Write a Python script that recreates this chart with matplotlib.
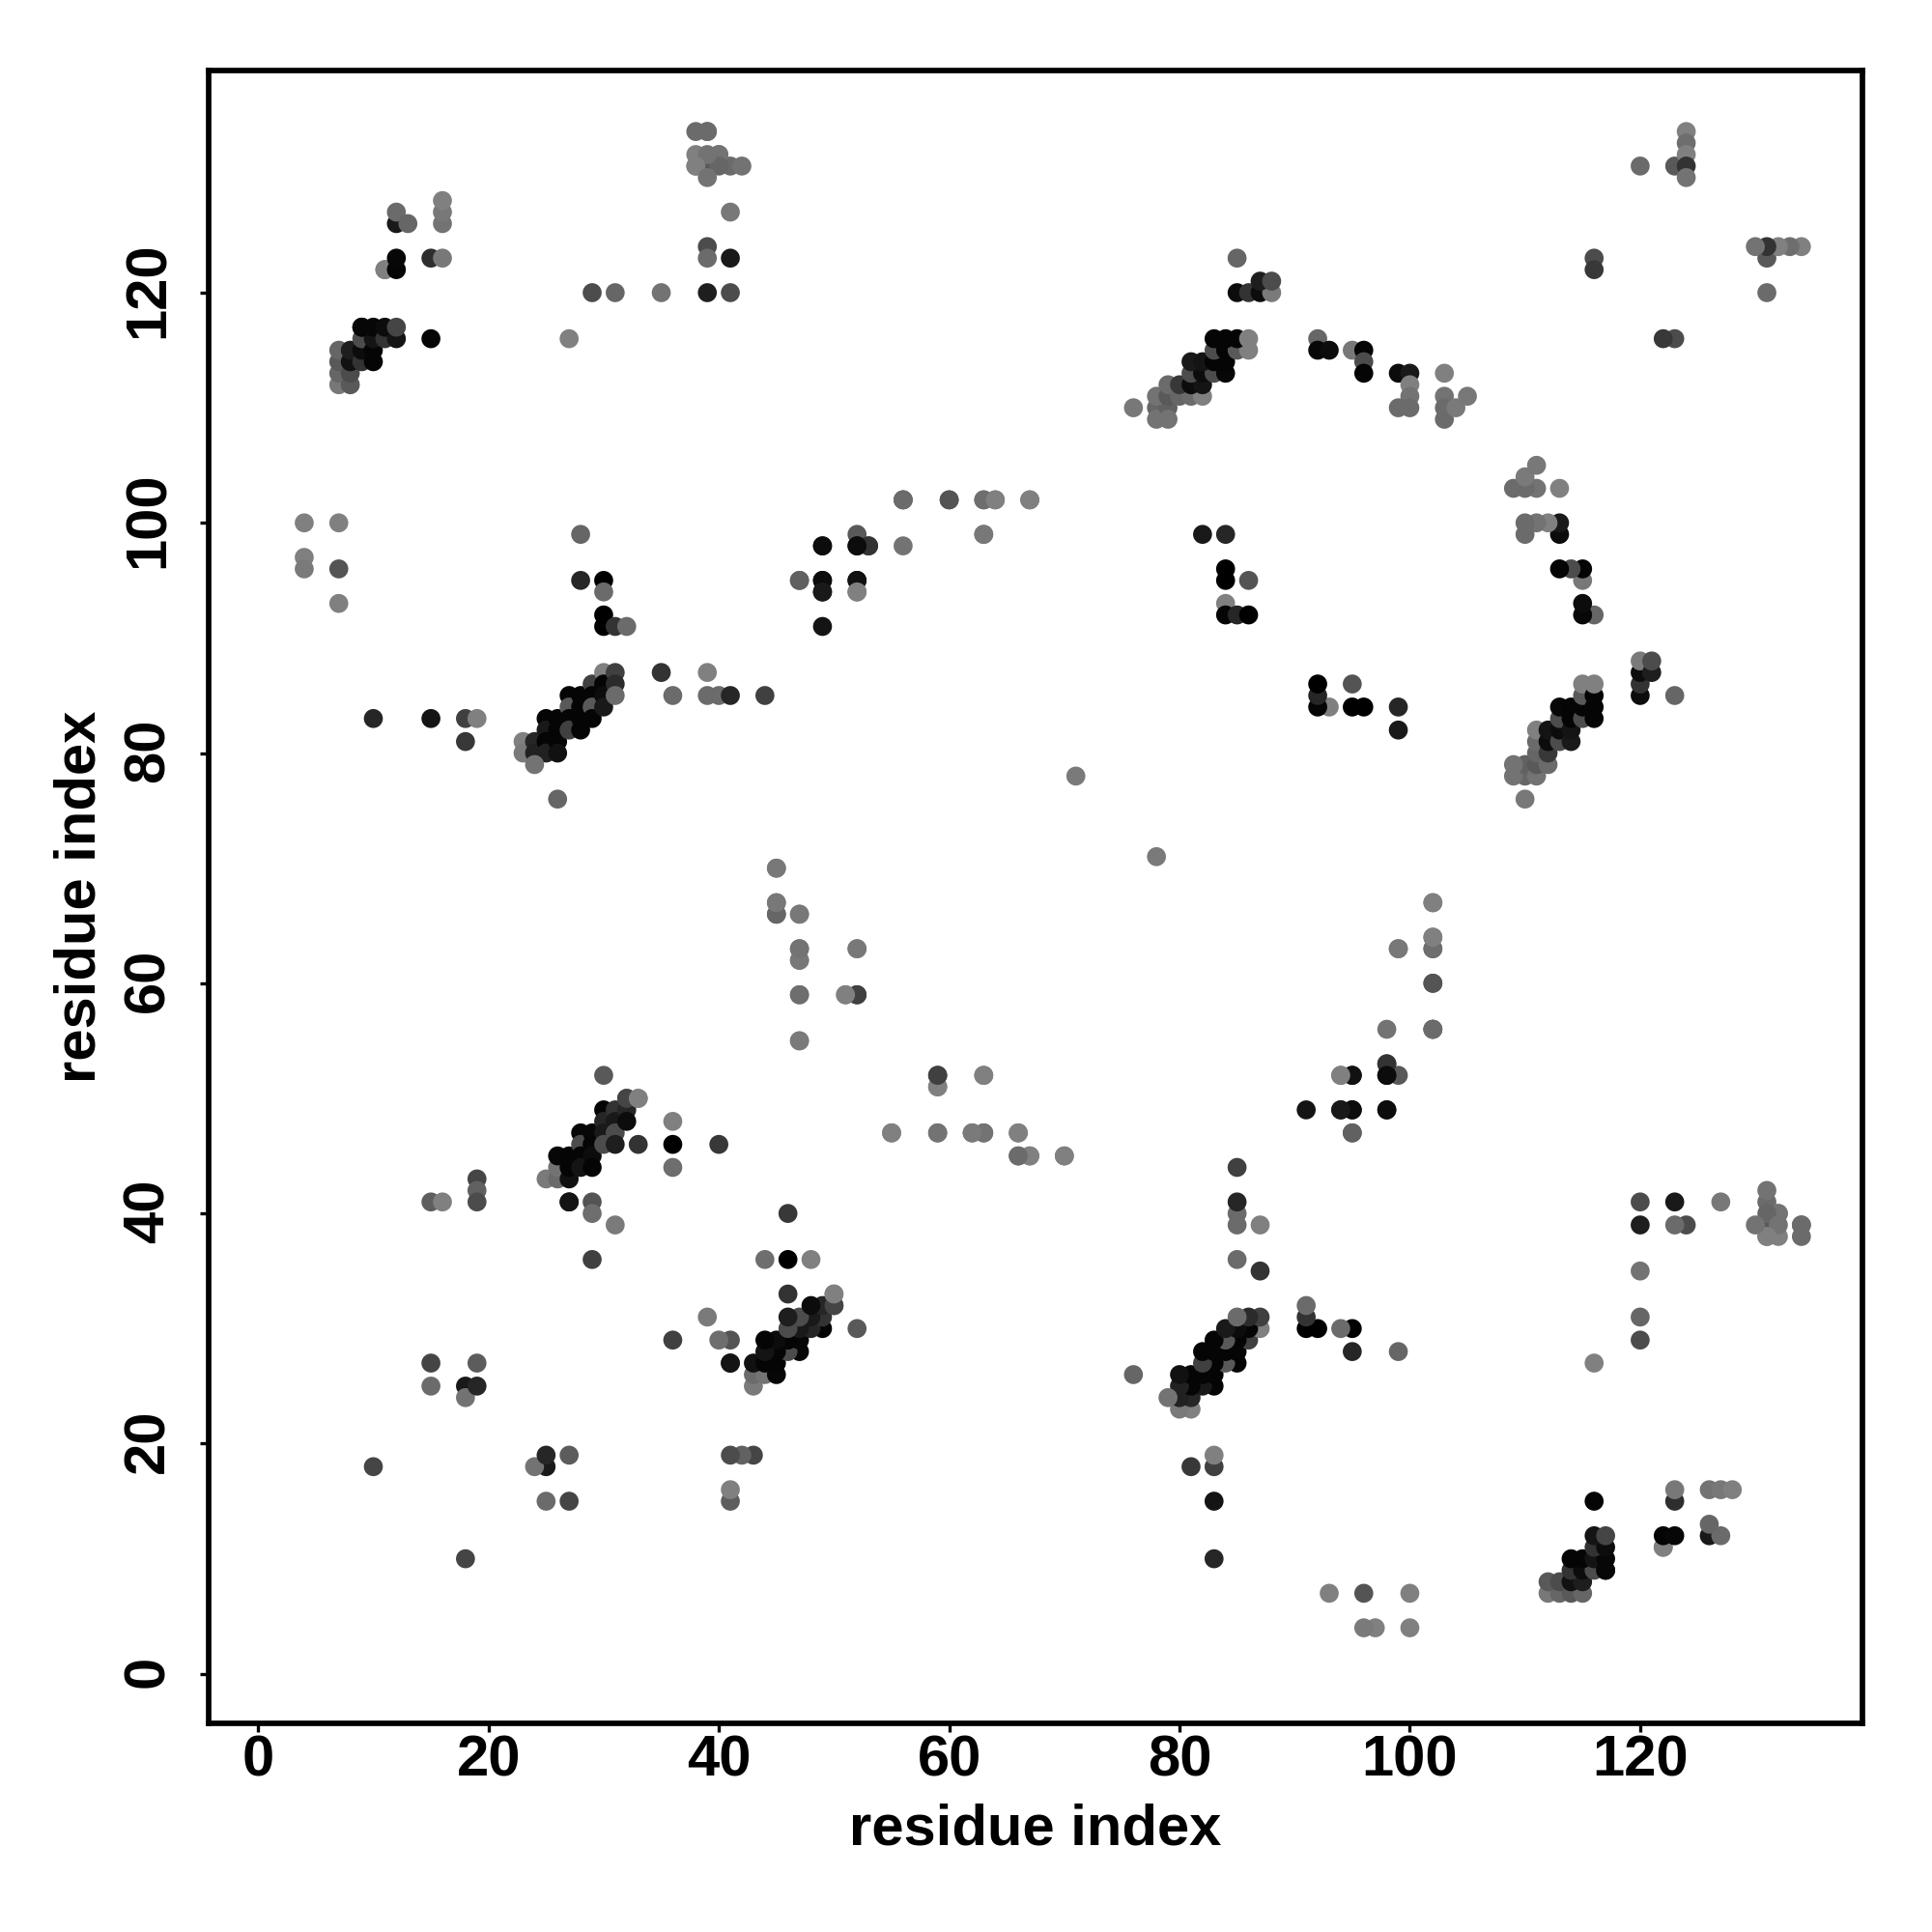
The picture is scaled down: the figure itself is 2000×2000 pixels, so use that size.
# -*- coding: utf-8 -*-
"""Carte de contacts symetrique : residue index vs residue index, gris = score."""
import numpy as np
import matplotlib
matplotlib.use("Agg")
import matplotlib.pyplot as plt
from matplotlib.transforms import ScaledTranslation

# contacts du triangle superieur (y > x), le reste est le miroir
res_i = [4, 4, 4, 7, 7, 7, 10, 15, 18, 19, 18, 10, 15, 15, 18, 18, 19, 19, 15, 16, 19, 19, 19,
         7, 7, 7, 7, 8, 8, 8, 8, 9, 9, 9, 9, 10, 10, 10, 10, 11, 11, 11, 12, 12, 9, 15, 11, 12, 12, 15, 16, 12, 12, 13, 16, 16, 16,
         23, 23, 24, 24, 25, 25, 25, 25, 26, 26, 26, 26, 26, 27, 27, 27, 27, 28, 28, 28, 28, 24, 29, 29, 29, 29, 30, 30, 30, 30, 31, 31, 31, 28, 28, 30, 30, 30, 30, 31, 32,
         35, 36, 39, 39, 40, 41, 44, 39, 40, 41, 40, 42, 38, 38, 39, 39, 40, 38, 39, 38, 39, 41, 39, 39, 41, 29, 31, 35, 39, 41, 27,
         25, 26, 26, 27, 26, 27, 27, 27, 28, 28, 28, 28, 29, 29, 29, 29, 30, 30, 30, 30, 31, 31, 31, 31, 32, 32, 32, 33, 33, 36, 36, 36, 40, 29, 29, 27, 29, 31, 30, 32, 33,
         45, 45, 45, 47, 47, 47, 47, 51, 52, 52, 47, 55, 59, 62, 63, 66, 66, 67, 70, 59, 59, 63,
         47, 49, 49, 49, 49, 52, 52, 53, 52, 52, 56, 56, 60, 63, 64, 67, 63, 49, 49, 49, 47, 52, 52, 53, 52, 56, 63, 56, 60, 63, 64, 67, 71,
         82, 84, 84, 84, 86, 84, 84, 85, 86,
         76, 78, 78, 79, 79, 78, 79, 80, 81, 82, 79, 80, 81, 82, 81, 82, 83, 84, 81, 82, 83, 84, 83, 84, 85, 86, 83, 84, 85, 86, 85, 85, 86, 87, 88, 87, 88,
         92, 92, 93, 95, 96, 96, 96, 99, 100, 100, 100, 99, 100, 103, 103, 103, 103, 104, 105,
         116, 116, 120, 123, 124, 124, 124, 124, 124]
res_j = [100, 97, 96, 100, 96, 93, 83, 83, 83, 83, 81, 18, 27, 25, 25, 24, 27, 25, 41, 41, 43, 42, 41,
         112, 113, 114, 115, 112, 113, 114, 115, 114, 115, 116, 117, 114, 115, 116, 117, 116, 117, 122, 116, 117, 117, 116, 122, 122, 123, 123, 123, 126, 127, 126, 126, 127, 128,
         81, 80, 81, 80, 83, 82, 81, 80, 83, 82, 81, 80, 76, 85, 84, 83, 82, 85, 84, 83, 82, 79, 86, 85, 84, 83, 87, 86, 85, 84, 87, 86, 85, 99, 95, 95, 94, 92, 91, 91, 91,
         87, 85, 87, 85, 85, 85, 85, 134, 132, 131, 132, 131, 134, 132, 134, 131, 131, 131, 132, 131, 130, 127, 124, 123, 123, 120, 120, 120, 120, 120, 116,
         43, 43, 44, 43, 45, 45, 44, 41, 47, 46, 45, 44, 47, 46, 45, 44, 49, 48, 47, 46, 49, 48, 47, 46, 50, 49, 48, 50, 46, 48, 46, 44, 46, 41, 40, 41, 36, 39, 52, 50, 50,
         70, 67, 66, 66, 63, 62, 59, 59, 59, 63, 55, 47, 47, 47, 47, 47, 45, 45, 45, 52, 51, 52,
         95, 98, 95, 94, 91, 99, 98, 98, 95, 94, 102, 98, 102, 102, 102, 102, 99, 98, 95, 94, 95, 95, 94, 98, 98, 102, 99, 102, 102, 102, 102, 102, 78,
         99, 99, 96, 95, 95, 93, 92, 92, 92,
         110, 110, 109, 110, 109, 111, 111, 111, 111, 111, 112, 112, 112, 112, 113, 113, 113, 113, 114, 114, 114, 114, 115, 115, 115, 115, 116, 116, 116, 116, 120, 123, 120, 120, 120, 121, 121,
         116, 115, 115, 115, 115, 114, 113, 113, 113, 112, 111, 110, 110, 113, 111, 110, 109, 110, 111,
         123, 122, 131, 131, 134, 133, 132, 131, 130]
score_gray = [.50, .50, .48, .50, .33, .50, .15, .08, .25, .50, .22, .27, .27, .42, .10, .45, .36, .15, .37, .50, .27, .38, .30,
              .47, .40, .35, .40, .35, .30, .07, .12, .20, .05, .30, .03, .02, .02, .08, .03, .20, .05, .50, .08, .27, .03, .02, .50, .02, .03, .18, .47, .10, .42, .40, .45, .47, .50,
              .50, .48, .15, .13, .02, .10, .02, .13, .02, .02, .02, .07, .40, .02, .35, .02, .25, .02, .02, .02, .02, .45, .25, .02, .35, .02, .50, .02, .05, .10, .25, .17, .42, .40, .15, .00, .42, .00, .00, .20, .42,
              .20, .42, .50, .42, .42, .15, .25, .42, .50, .42, .45, .45, .42, .50, .42, .35, .40, .50, .45, .50, .45, .47, .30, .42, .10, .30, .40, .45, .12, .30, .50,
              .48, .42, .45, .07, .03, .02, .02, .08, .03, .30, .02, .08, .03, .02, .05, .02, .02, .15, .10, .30, .20, .10, .30, .12, .27, .15, .05, .50, .20, .50, .00, .43, .22, .33, .43, .08, .25, .48, .35, .27, .50,
              .50, .50, .42, .50, .45, .48, .45, .50, .25, .50, .50, .48, .43, .47, .45, .47, .40, .47, .47, .25, .50, .47,
              .35, .12, .05, .10, .08, .35, .05, .25, .05, .45, .45, .45, .30, .42, .45, .45, .45, .05, .05, .10, .38, .07, .50, .20, .05, .42, .47, .42, .33, .43, .50, .50, .48,
              .10, .15, .00, .00, .33, .50, .02, .15, .00,
              .47, .40, .45, .38, .45, .45, .35, .40, .42, .50, .42, .22, .05, .08, .30, .05, .30, .03, .10, .08, .02, .02, .30, .02, .35, .50, .02, .02, .02, .50, .05, .40, .20, .05, .48, .12, .30,
              .40, .03, .05, .47, .02, .30, .02, .05, .10, .50, .45, .42, .42, .50, .45, .42, .42, .48, .47,
              .30, .22, .42, .35, .50, .43, .50, .20, .45]

TICKS = [0, 20, 40, 60, 80, 100, 120]
LABEL = "residue index"


def main():
    x = np.array(res_i + res_j)
    y = np.array(res_j + res_i)
    gray = np.array(score_gray + score_gray)

    plt.rcParams["font.family"] = ["Liberation Sans", "DejaVu Sans"]
    plt.rcParams["font.weight"] = "bold"

    fig = plt.figure(figsize=(10, 10), dpi=200)
    ax = fig.add_axes([216 / 2000, 1 - 1784 / 2000, 1712 / 2000, 1711 / 2000])
    ax.scatter(x, y, s=50, c=gray, cmap="gray", vmin=0, vmax=1, linewidths=0, zorder=2)

    ax.set_xlim(-4.3, 139.3)
    ax.set_ylim(-4.3, 139.3)
    ax.set_xticks(TICKS)
    ax.set_yticks(TICKS)
    ax.tick_params(length=3.3, width=1.2)
    ax.tick_params(axis="x", labelsize=21.5, pad=1)
    ax.tick_params(axis="y", labelsize=21.5, pad=9.2)
    # les labels tournes tombent un peu trop bas
    nudge = ScaledTranslation(0, 1 / 72, fig.dpi_scale_trans)
    for lab in ax.get_yticklabels():
        lab.set_rotation(90)
        lab.set_va("center")
        lab.set_transform(lab.get_transform() + nudge)
    for spine in ax.spines.values():
        spine.set_linewidth(2.05)
    ax.set_xlabel(LABEL, fontsize=21.5, fontweight="bold", labelpad=5.5)
    ax.set_ylabel(LABEL, fontsize=21.5, fontweight="bold", labelpad=5.5)

    fig.savefig("out.png", dpi=200)
    plt.close(fig)


if __name__ == "__main__":
    main()
